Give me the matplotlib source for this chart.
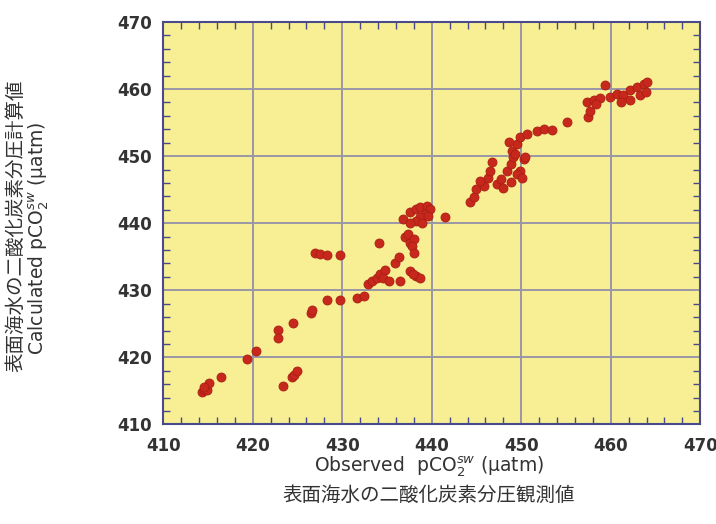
import matplotlib.pyplot as plt
from matplotlib.ticker import MultipleLocator

plt.rcParams['font.family'] = ['DejaVu Sans', 'Noto Sans CJK JP']

# observed / calculated pCO2 (uatm)
obs = [414.3, 414.5, 414.9, 415.1, 414.6, 416.4, 419.4, 420.4, 422.8, 422.8,
       424.5, 423.4, 424.4, 424.6, 424.9, 426.5, 426.6, 428.3, 429.7,
       427.0, 427.5, 428.3, 429.8, 431.6, 432.4,
       432.9, 433.3, 433.9, 434.2, 434.8, 434.6, 435.2, 436.5, 437.6, 438.2, 438.7, 437.9,
       434.1, 435.9, 436.3, 437.0, 437.6, 437.4, 438.0, 437.8, 438.0,
       436.8, 437.6, 438.2, 438.7, 439.5, 439.8, 439.3, 438.7, 438.2, 437.6, 438.9, 439.6,
       441.5,
       444.3, 444.7, 445.0, 445.8, 445.4, 446.3, 447.3, 446.7, 446.5, 447.7, 448.4, 448.8,
       449.0, 449.5, 449.9, 450.3, 449.9, 448.8, 448.0, 449.5, 449.1, 448.6, 449.3, 450.4, 450.1,
       450.6, 451.8, 452.5, 453.4, 455.1,
       457.5, 457.7, 457.3, 458.1, 458.8, 459.4, 459.9, 460.7, 461.4, 462.2, 462.9, 463.7,
       464.0, 463.3, 463.9, 462.2, 461.2, 458.4]
calc = [414.9, 415.2, 415.2, 416.2, 415.6, 417.0, 419.8, 421.0, 424.1, 422.9,
        425.1, 415.7, 417.0, 417.4, 417.9, 426.6, 427.0, 428.5, 428.5,
        435.5, 435.4, 435.2, 435.2, 428.9, 429.1,
        430.9, 431.4, 431.9, 432.4, 433.1, 431.9, 431.4, 431.4, 432.9, 432.1, 431.9, 432.5,
        437.1, 434.1, 434.9, 437.9, 437.1, 438.4, 437.6, 436.6, 435.6,
        440.6, 441.6, 442.1, 442.4, 442.5, 442.1, 441.4, 440.9, 440.4, 440.1, 440.1, 441.1,
        440.9,
        443.1, 443.9, 445.1, 445.6, 446.3, 446.8, 445.9, 449.1, 447.8, 446.6, 447.8, 448.8,
        450.8, 451.8, 452.8, 449.6, 447.8, 446.1, 445.3, 447.4, 449.8, 452.1, 450.3, 449.8, 446.8,
        453.3, 453.7, 454.1, 453.9, 455.1,
        455.8, 456.8, 458.1, 458.3, 458.6, 460.6, 458.8, 459.3, 459.1, 459.8, 460.3, 460.8,
        461.1, 459.1, 459.6, 458.3, 458.1, 457.8]

xlab_en = 'Observed  pCO$_2^{sw}$ (\u03bcatm)'
xlab_jp = '表面海水の二酸化炭素分圧観測値'
ylab_en = 'Calculated pCO$_2^{sw}$ (\u03bcatm)'
ylab_jp = '表面海水の二酸化炭素分圧計算値'

fig = plt.figure(figsize=(7.16, 5.24), dpi=100)
ax = fig.add_axes([0.228, 0.19, 0.75, 0.768])
ax.set_facecolor('#f8ef94')

ax.scatter(obs, calc, s=42, color='#c8281c', edgecolors='#a81e14', linewidths=0.6, zorder=3)

ax.set_xlim(410, 470)
ax.set_ylim(410, 470)
ax.xaxis.set_major_locator(MultipleLocator(10))
ax.yaxis.set_major_locator(MultipleLocator(10))
ax.xaxis.set_minor_locator(MultipleLocator(2))
ax.yaxis.set_minor_locator(MultipleLocator(2))
ax.grid(True, which='major', color='#9a96a6', linewidth=1.4)
ax.set_axisbelow(True)
ax.tick_params(which='both', direction='in', top=True, right=True, colors='#4a4a8a',
               labelcolor='#333333', labelsize=12)
ax.tick_params(which='major', length=0)
ax.tick_params(axis='x', which='major', pad=9)
ax.tick_params(axis='y', which='major', pad=8)
ax.tick_params(which='minor', length=5, width=1)
for lab in ax.get_xticklabels() + ax.get_yticklabels():
    lab.set_fontweight('bold')
for s in ax.spines.values():
    s.set_color('#4a4a8a')
    s.set_linewidth(1.5)

fig.text(429 / 716, 1 - 467 / 524, xlab_en, fontsize=13.5, color='#333333', ha='center', va='center')
fig.text(429 / 716, 1 - 495 / 524, xlab_jp, fontsize=14, color='#333333', ha='center', va='center')
fig.text(39 / 716, 1 - 238 / 524, ylab_en, fontsize=13.5, color='#333333', rotation=90,
         ha='center', va='center')
fig.text(16 / 716, 1 - 226 / 524, ylab_jp, fontsize=14, color='#333333', rotation=90,
         ha='center', va='center')

fig.savefig('out.png', dpi=100)
